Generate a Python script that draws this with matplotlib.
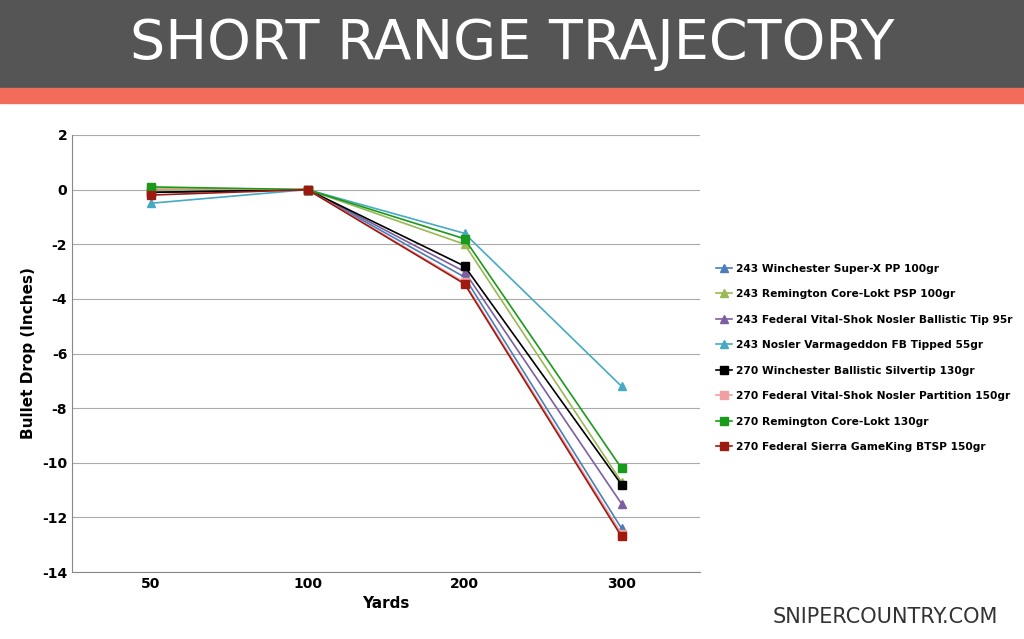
import matplotlib
matplotlib.use("Agg")
import matplotlib.pyplot as plt
plt.rcParams["axes.unicode_minus"] = False

yards = ["50", "100", "200", "300"]
names = ["243 Winchester Super-X PP 100gr",
         "243 Remington Core-Lokt PSP 100gr",
         "243 Federal Vital-Shok Nosler Ballistic Tip 95r",
         "243 Nosler Varmageddon FB Tipped 55gr",
         "270 Winchester Ballistic Silvertip 130gr",
         "270 Federal Vital-Shok Nosler Partition 150gr",
         "270 Remington Core-Lokt 130gr",
         "270 Federal Sierra GameKing BTSP 150gr"]
s1 = [-0.1, 0, -3.2, -12.4]
s2 = [0.0, 0, -2.0, -10.7]
s3 = [-0.1, 0, -3.0, -11.5]
s4 = [-0.5, 0, -1.6, -7.2]
s5 = [-0.1, 0, -2.8, -10.8]
s6 = [0.05, 0, -3.4, -12.6]
s7 = [0.1, 0, -1.8, -10.2]
s8 = [-0.2, 0, -3.45, -12.7]
series = [s1, s2, s3, s4, s5, s6, s7, s8]
colors = ["#4a7ebb", "#98b954", "#7d5fa0", "#46aac5", "#000000", "#f0a0a0", "#1a9a1a", "#9c1a10"]
markers = ["^", "^", "^", "^", "s", "s", "s", "s"]

fig = plt.figure(figsize=(10.24, 6.39), dpi=100)
fig.patch.set_facecolor("white")
fig.add_artist(plt.Rectangle((0, 1 - 88/639), 1, 88/639, transform=fig.transFigure, color="#555555"))
fig.add_artist(plt.Rectangle((0, 1 - 103/639), 1, 15/639, transform=fig.transFigure, color="#f26b5b"))
fig.text(0.5, 1 - 44/639, "SHORT RANGE TRAJECTORY", ha="center", va="center",
         color="white", fontsize=40, family="DejaVu Sans")
fig.text(0.975, 0.035, "SNIPERCOUNTRY.COM", ha="right", va="center", color="#333333", fontsize=15)

ax = fig.add_axes([72/1024, 1 - 572/639, 628/1024, 437/639])
x = range(len(yards))
for s, n, c, m in zip(series, names, colors, markers):
    ax.plot(x, s, color=c, marker=m, markersize=6, linewidth=1.2, label=n)
ax.set_xlim(-0.5, 3.5)
ax.set_ylim(-14, 2)
ax.set_yticks(range(-14, 3, 2))
ax.set_xticks(list(x))
ax.set_xticklabels(yards, fontweight="bold")
for t in ax.get_yticklabels():
    t.set_fontweight("bold")
ax.tick_params(length=0, labelsize=10)
ax.grid(axis="y", color="#aaaaaa", linewidth=0.8)
for sp in ["top", "right"]:
    ax.spines[sp].set_visible(False)
ax.spines["left"].set_color("#888888")
ax.spines["bottom"].set_color("#888888")
ax.set_xlabel("Yards", fontweight="bold", fontsize=11)
ax.set_ylabel("Bullet Drop (Inches)", fontweight="bold", fontsize=11)
ax.legend(loc="center left", bbox_to_anchor=(1.01, 0.49), frameon=False,
          handlelength=1.5, handletextpad=0.4, labelspacing=1.45,
          prop={"weight": "bold", "size": 7.7})
fig.savefig("out.png", dpi=100)
